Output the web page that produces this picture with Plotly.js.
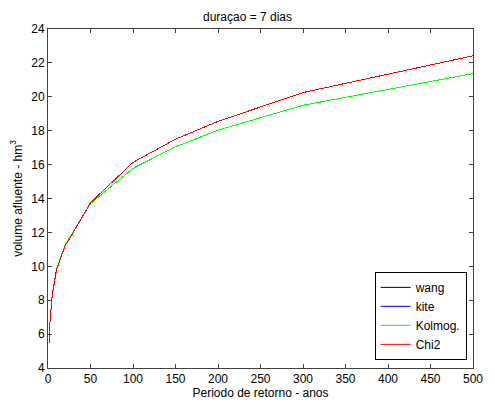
<!DOCTYPE html>
<html>
<head>
<meta charset="utf-8">
<script src="https://cdn.plot.ly/plotly-3.0.1.min.js"></script>
<style>
html,body{margin:0;padding:0;background:#fff;}
#chart{width:495px;height:405px;}
.scatterlayer path.js-line{shape-rendering:crispEdges;}
</style>
</head>
<body>
<div id="chart"></div>
<script>
var periods = [1.5, 2, 5, 10, 20, 25, 50, 100, 150, 200, 300, 500];
var wang    = [5.5, 6.5, 8.3, 9.8, 11.2, 11.6, 13.75, 16.13, 17.5, 18.55, 20.25, 22.42];
var kite    = [5.5, 6.5, 8.3, 9.8, 11.2, 11.6, 13.75, 16.13, 17.5, 18.55, 20.25, 22.42];
var kolmog  = [5.5, 6.5, 8.35, 9.85, 11.25, 11.65, 13.7, 15.78, 17.05, 18.03, 19.5, 21.37];
var chi2    = [5.5, 6.5, 8.3, 9.8, 11.2, 11.6, 13.75, 16.13, 17.5, 18.55, 20.25, 22.42];
var names   = ['wang', 'kite', 'Kolmog.', 'Chi2'];
var colors  = ['#000000', '#0000ff', '#00ff00', '#ff0000'];
var xTicks  = [0, 50, 100, 150, 200, 250, 300, 350, 400, 450, 500];
var yTicks  = [4, 6, 8, 10, 12, 14, 16, 18, 20, 22, 24];

var series = [wang, kite, kolmog, chi2];
var traces = series.map(function (s, i) {
  return {x: periods, y: s, type: 'scatter', mode: 'lines', name: names[i],
          line: {color: colors[i], width: 1}};
});

var font = {family: 'Liberation Sans, Arial, sans-serif', size: 12, color: '#000'};
var axisCommon = {
  showgrid: false, zeroline: false, showline: true, linecolor: '#404040', linewidth: 1,
  mirror: 'ticks', ticks: 'inside', ticklen: 4, tickcolor: '#404040', tickfont: font
};
var layout = {
  width: 495, height: 405,
  margin: {l: 48, r: 22, t: 29, b: 37},
  paper_bgcolor: '#fff', plot_bgcolor: '#fff',
  font: font,
  showlegend: true,
  title: {text: 'duraçao = 7 dias', font: font, x: 0.5, xanchor: 'center', y: 0.958, yanchor: 'middle'},
  xaxis: Object.assign({}, axisCommon, {
    range: [0, 500], tickvals: xTicks, ticktext: xTicks.map(String),
    title: {text: 'Periodo de retorno - anos', font: font, standoff: 2}
  }),
  yaxis: Object.assign({}, axisCommon, {
    range: [4, 24], tickvals: yTicks, ticktext: yTicks.map(String),
    title: {text: 'volume afluente - hm<sup>3</sup>', font: font, standoff: 6}
  }),
  legend: {
    x: 0.985, y: 0.024, xanchor: 'right', yanchor: 'bottom',
    bgcolor: '#fff', bordercolor: '#000', borderwidth: 1,
    font: font, tracegroupgap: 0, itemwidth: 30
  }
};
Plotly.newPlot('chart', traces, layout, {displayModeBar: false, staticPlot: true});
</script>
</body>
</html>
